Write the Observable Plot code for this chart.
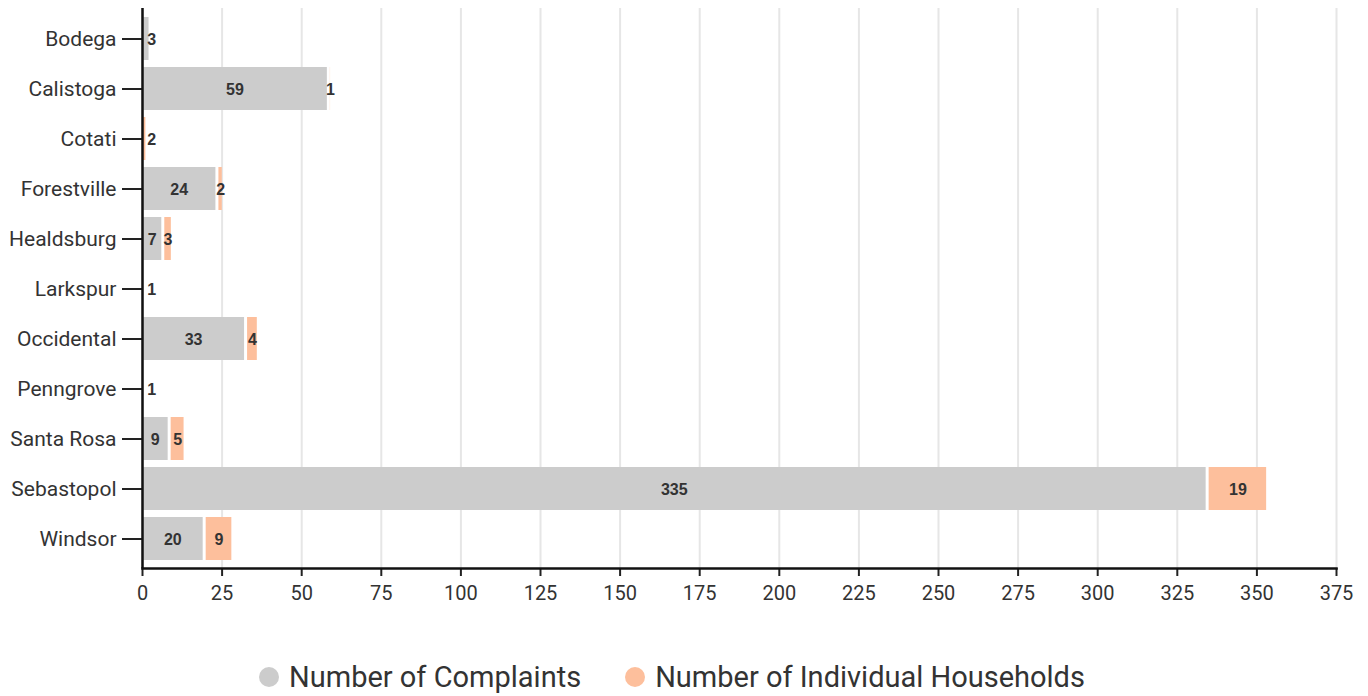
<!DOCTYPE html>
<html>
<head>
<meta charset="utf-8">
<script src="https://cdn.jsdelivr.net/npm/d3@7"></script>
<script src="https://cdn.jsdelivr.net/npm/@observablehq/plot@0.6"></script>
<style>
  body { margin: 0; background: #fff; font-family: Roboto, sans-serif; }
  #legend { display: flex; justify-content: center; align-items: center; gap: 44px; margin-top: 30px; padding-right: 24px; }
  .item { display: flex; align-items: center; gap: 10px; font-size: 29px; color: #333; line-height: 34px; }
  .dot { width: 20px; height: 20px; border-radius: 50%; display: inline-block; }
</style>
</head>
<body>
<div id="chart"></div>
<div id="legend"></div>
<script>
const towns = ["Bodega", "Calistoga", "Cotati", "Forestville", "Healdsburg", "Larkspur", "Occidental", "Penngrove", "Santa Rosa", "Sebastopol", "Windsor"];
const complaints = [3, 59, 0, 24, 7, 1, 33, 1, 9, 335, 20];
const households = [0, 1, 2, 2, 3, 0, 4, 0, 5, 19, 9];
const seriesNames = ["Number of Complaints", "Number of Individual Households"];
const seriesColors = ["#cccccc", "#fdbf9c"];
const xTicks = [0, 25, 50, 75, 100, 125, 150, 175, 200, 225, 250, 275, 300, 325, 350, 375];

// stacked segments built from the arrays
const segs = [];
towns.forEach((t, i) => {
  const c = complaints[i], h = households[i];
  if (c > 0) segs.push({town: t, series: seriesNames[0], value: c, x1: 0, x2: c});
  if (h > 0) segs.push({town: t, series: seriesNames[1], value: h, x1: c, x2: c + h});
});

const chart = Plot.plot({
  width: 1368,
  height: 630,
  marginLeft: 142,
  marginRight: 32,
  marginTop: 8,
  marginBottom: 62,
  style: { fontFamily: "Roboto, sans-serif", color: "#333", background: "#fff" },
  x: { domain: [0, 375] },
  y: { domain: towns, paddingInner: 0.15, paddingOuter: 0.075 },
  color: { domain: seriesNames, range: seriesColors },
  marks: [
    Plot.gridX(xTicks, { stroke: "#e6e6e6", strokeWidth: 2, strokeOpacity: 1 }),
    Plot.barX(segs, { x1: "x1", x2: "x2", y: "town", fill: "series", insetRight: 3 }),
    Plot.text(segs, {
      x: d => Math.max((d.x1 + d.x2) / 2, 3.4),
      y: "town",
      text: d => String(d.value),
      dx: -1.5,
      dy: 1,
      fontWeight: "bold",
      fontSize: 16,
      fill: "#333",
      fontFamily: "Liberation Sans, Arial, sans-serif"
    }),
    Plot.axisY({ tickSize: 20, tickPadding: 6, fontSize: 21, strokeWidth: 2, stroke: "#222", fill: "#333", label: null }),
    Plot.axisX(xTicks, { tickSize: 8, tickPadding: 9, fontSize: 20, strokeWidth: 2, stroke: "#222", fill: "#333", label: null }),
    Plot.ruleX([0], { stroke: "#111", strokeWidth: 2.5 }),
    Plot.frame({ anchor: "bottom", stroke: "#111", strokeWidth: 2.5 })
  ]
});
document.getElementById("chart").appendChild(chart);

const legend = document.getElementById("legend");
seriesNames.forEach((name, i) => {
  const item = document.createElement("div");
  item.className = "item";
  const dot = document.createElement("span");
  dot.className = "dot";
  dot.style.background = seriesColors[i];
  const label = document.createElement("span");
  label.textContent = name;
  item.appendChild(dot);
  item.appendChild(label);
  legend.appendChild(item);
});
</script>
</body>
</html>
